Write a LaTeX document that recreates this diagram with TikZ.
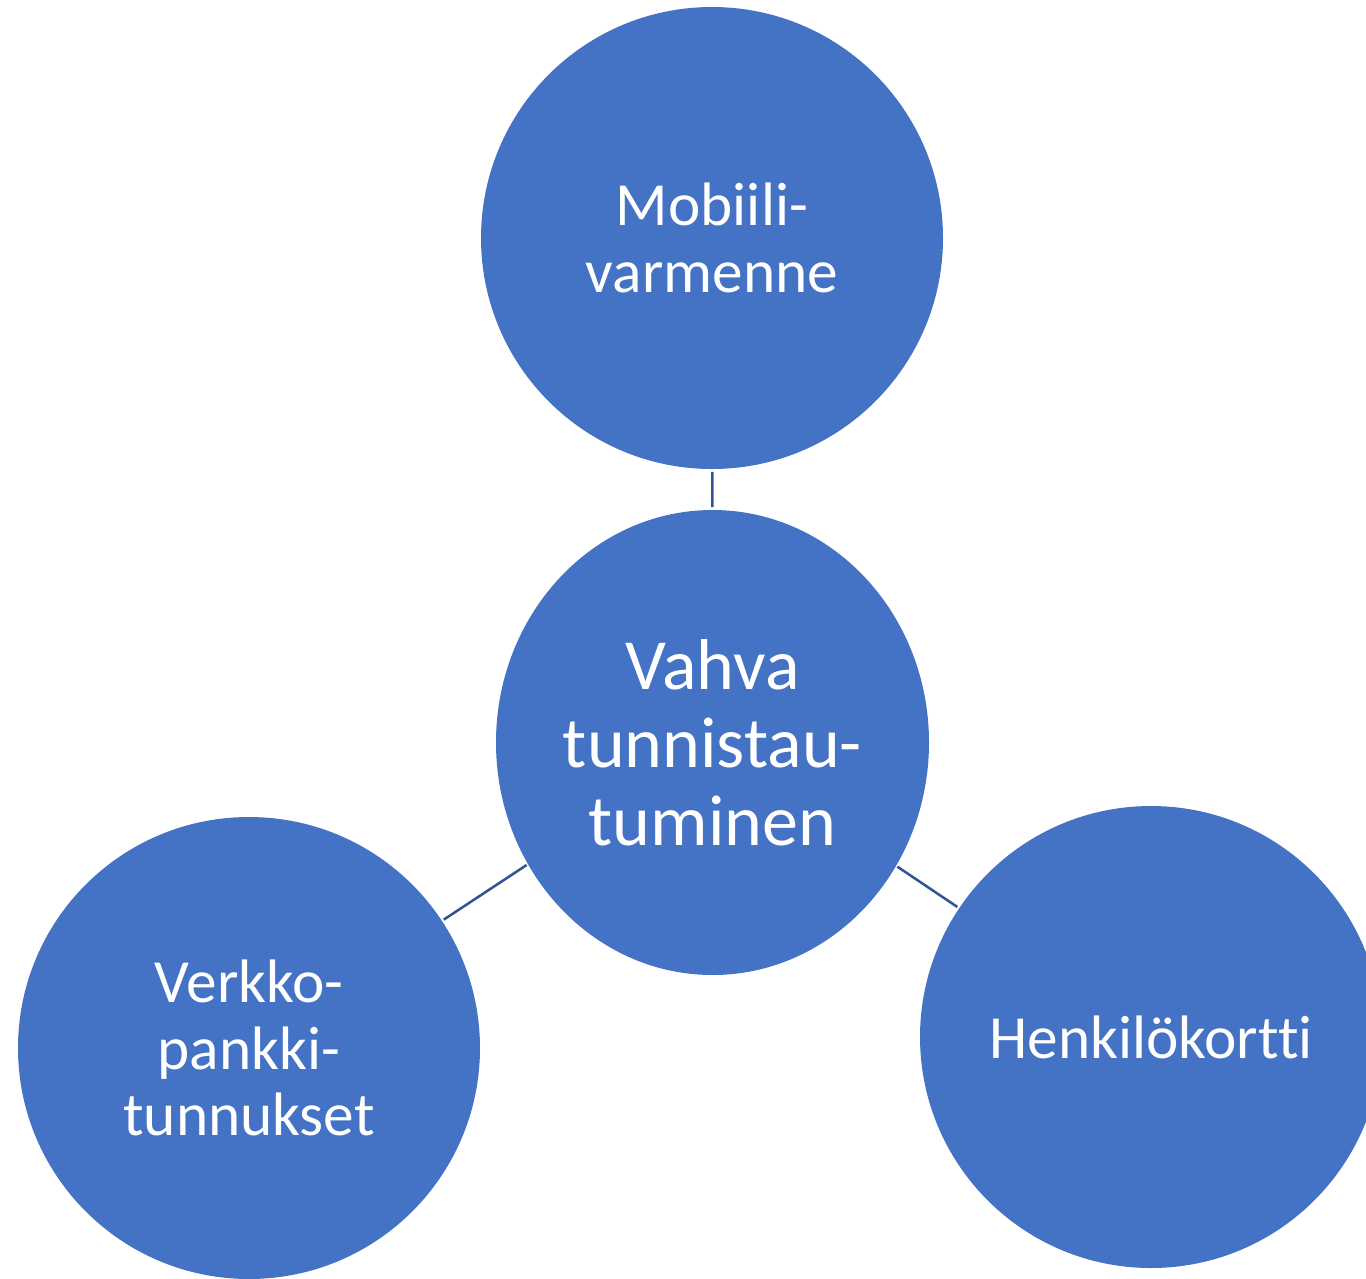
\documentclass[tikz,border=0pt]{standalone}
\usepackage{fontspec}
\setmainfont{Carlito}[Ligatures=NoCommon]
\usetikzlibrary{shapes.geometric}
\definecolor{fillblue}{HTML}{4472C4}
\definecolor{linkblue}{HTML}{2F5597}
\begin{document}
\begin{tikzpicture}[x=0.75pt, y=-0.75pt, every node/.style={circle, fill=fillblue, text=white, minimum size=346.5pt, inner sep=0pt, align=center, font=\fontsize{46}{50}\selectfont}]
            \useasboundingbox (0,0) rectangle (1366,1278);
            \node (mob) at (712,238) {Mobiili-\\varmenne};
            \node[ellipse, minimum width=324.75pt, minimum height=348.75pt, font=\fontsize{54}{58.5}\selectfont] (vahva) at (712.5,742.5) {Vahva\\tunnistau-\\tuminen};
            \node (verkko) at (249,1048) {Verkko-\\pankki-\\tunnukset};
            \node (henk) at (1151,1037) {Henkilökortti};
            \draw[linkblue, line width=1.9pt, shorten <=2pt, shorten >=2pt] (vahva) -- (mob);
            \draw[linkblue, line width=1.9pt, shorten <=1pt, shorten >=1.5pt] (vahva) -- (verkko);
            \draw[linkblue, line width=1.9pt, shorten <=1pt, shorten >=1.5pt] (vahva) -- (henk);
        \end{tikzpicture}
\end{document}
